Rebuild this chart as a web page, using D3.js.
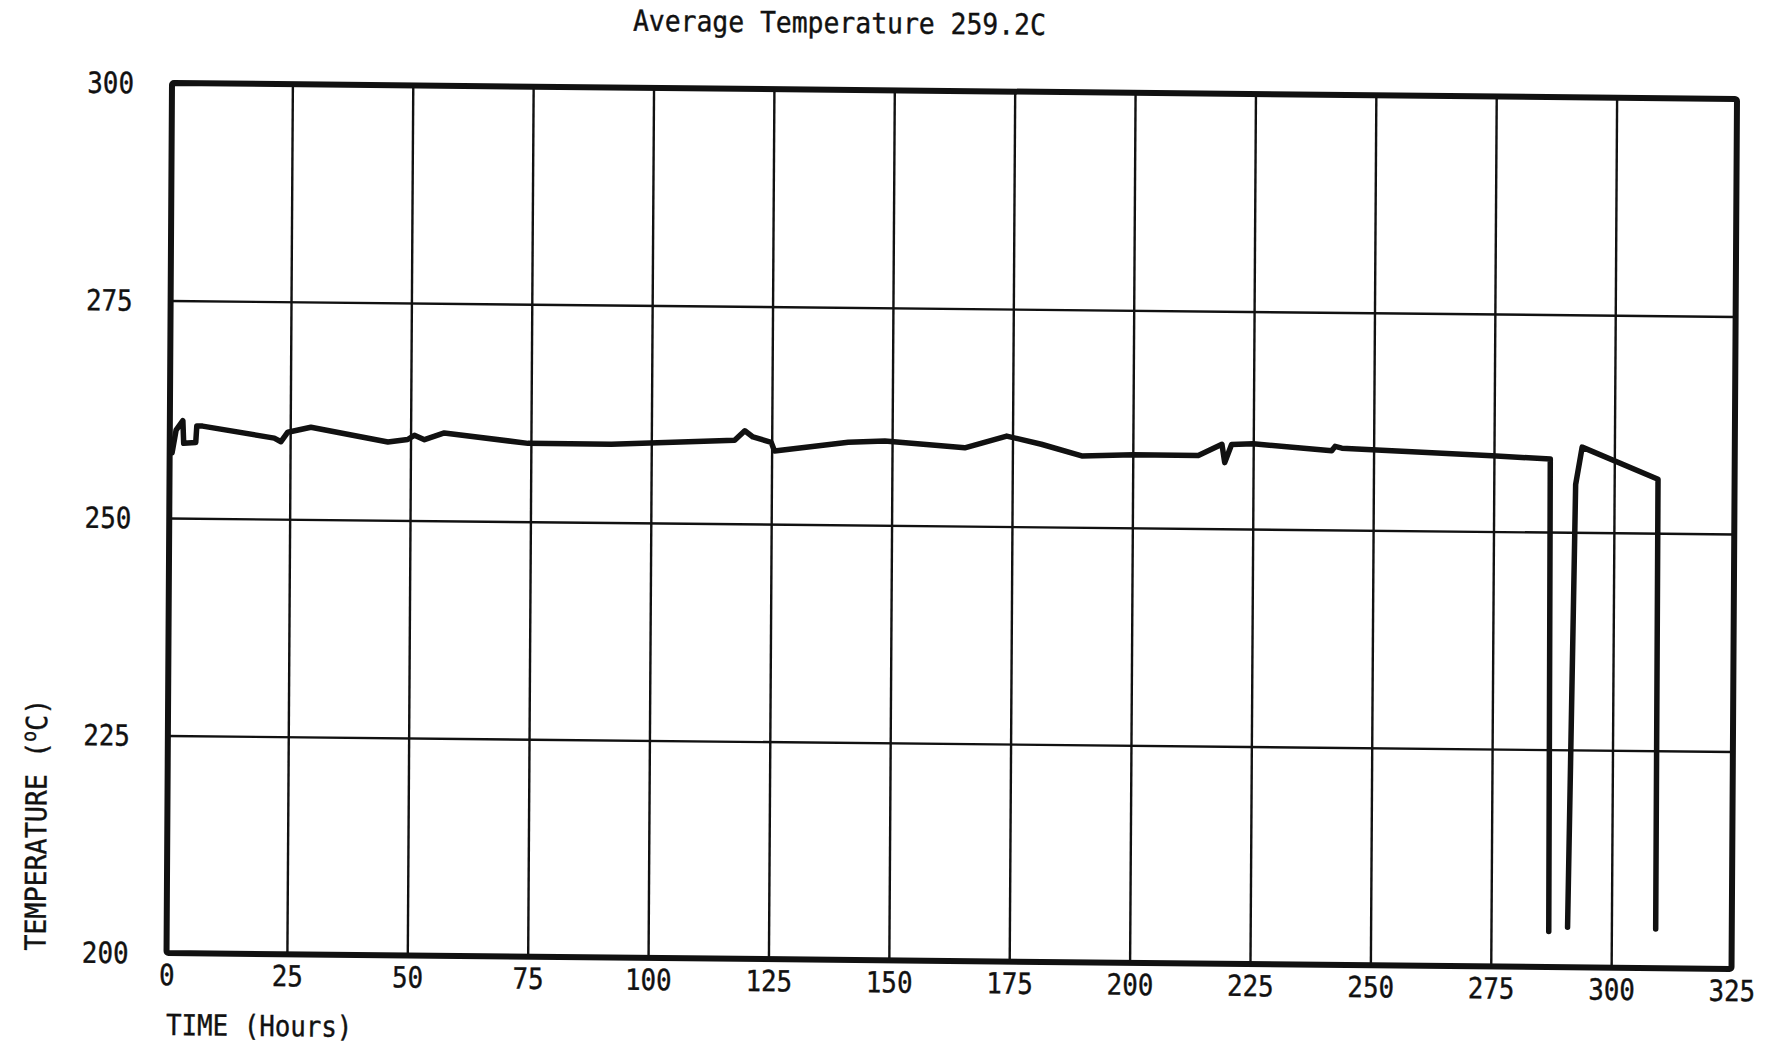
<!DOCTYPE html>
<html>
<head>
<meta charset="utf-8">
<script src="https://cdn.jsdelivr.net/npm/d3@7"></script>
<style>
  html, body { margin: 0; padding: 0; background: #fff; }
  svg { display: block; }
  text { font-family: "DejaVu Sans Mono", monospace; font-size: 29px; fill: #111; stroke: #111; stroke-width: 0.4px; }
</style>
</head>
<body>
<svg id="chart" width="1769" height="1050"></svg>
<script>
// chart recorder trace (null = pen off the paper)
var hours = [0.5, 1.3, 2.7, 2.9, 5.4, 5.6, 6.8, 21.7, 23.1, 24.5, 29.3, 45.3, 49.4, 50.8, 52.9, 57.0,
  74.4, 91.7, 117.3, 119.4, 121.1, 124.9, 125.6, 140.9, 148.5, 165.1, 173.8, 181.0, 189.4, 200.1,
  213.6, 218.5, 219.1, 220.5, 225.0, 241.3, 242.0, 243.4, 274.6, 286.7, 287.0,
  289.0,
  290.9, 292.0, 293.3, 309.1, 309.2];
var tempC = [257.5, 260.1, 261.2, 258.6, 258.7, 260.6, 260.6, 259.3, 258.9, 260.0, 260.6, 259.0, 259.3, 259.8, 259.3, 260.1,
  259.0, 259.0, 259.6, 260.7, 260.0, 259.4, 258.4, 259.5, 259.7, 259.0, 260.4, 259.5, 258.2, 258.4,
  258.4, 259.7, 257.6, 259.7, 259.8, 259.1, 259.6, 259.4, 258.7, 258.4, 204.1,
  null,
  204.6, 255.5, 259.8, 256.2, 204.5];

var xTicks = [0, 25, 50, 75, 100, 125, 150, 175, 200, 225, 250, 275, 300, 325];
var yTicks = [200, 225, 250, 275, 300];
var title = 'Average Temperature 259.2C';
var xTitle = 'TIME (Hours)';

var width = 1565, height = 870;
var squeeze = 'scale(0.89,1)';   // plotter lettering is narrower than DejaVu Mono

var svg = d3.select('#chart');
svg.append('rect').attr('width', 1769).attr('height', 1050).attr('fill', '#fff');

// the scanned sheet sits a little crooked (slight rotation + shear)
var g = svg.append('g').attr('transform', 'matrix(1,0.0102,-0.0063,1,172,83)');

var x = d3.scaleLinear().domain([0, 325]).range([0, width]);
var y = d3.scaleLinear().domain([200, 300]).range([height, 0]);

var xAxis = g.append('g')
  .attr('transform', 'translate(0,' + height + ')')
  .call(d3.axisBottom(x).tickValues(xTicks).tickSize(-height).tickSizeOuter(0));
xAxis.select('.domain').remove();
xAxis.selectAll('line').attr('stroke', '#111').attr('stroke-width', 2.4);
xAxis.selectAll('text')
  .attr('x', null).attr('y', null).attr('dy', null)
  .attr('fill', '#111').attr('font-size', 29)
  .attr('font-family', '"DejaVu Sans Mono", monospace')
  .attr('transform', 'translate(0,32) ' + squeeze);

var yAxis = g.append('g')
  .call(d3.axisLeft(y).tickValues(yTicks).tickSize(-width).tickSizeOuter(0));
yAxis.select('.domain').remove();
yAxis.selectAll('line').attr('stroke', '#111').attr('stroke-width', 2.4);
yAxis.selectAll('text')
  .attr('x', null).attr('y', null).attr('dy', null)
  .attr('fill', '#111').attr('font-size', 29)
  .attr('font-family', '"DejaVu Sans Mono", monospace')
  .attr('transform', 'translate(-38,10) ' + squeeze);

// heavy frame
g.append('rect')
  .attr('width', width).attr('height', height)
  .attr('rx', 2)
  .attr('fill', 'none').attr('stroke', '#111').attr('stroke-width', 6);

var points = hours.map(function (h, i) { return {t: h, v: tempC[i]}; });
var line = d3.line()
  .defined(function (d) { return d.v !== null; })
  .x(function (d) { return x(d.t); })
  .y(function (d) { return y(d.v); });

g.append('path')
  .datum(points)
  .attr('d', line)
  .attr('fill', 'none')
  .attr('stroke', '#111')
  .attr('stroke-width', 5.5)
  .attr('stroke-linejoin', 'round')
  .attr('stroke-linecap', 'round');

g.append('text')
  .attr('text-anchor', 'middle')
  .attr('transform', 'translate(667,-57) scale(0.91,1)')
  .text(title);

g.append('text')
  .attr('transform', 'translate(0,' + (height + 82) + ') ' + squeeze)
  .text(xTitle);

var yLabel = g.append('text')
  .attr('transform', 'translate(-121,' + (height - 1) + ') rotate(-90) scale(0.92,1)');
yLabel.append('tspan').text('TEMPERATURE (');
yLabel.append('tspan').attr('font-size', 20).attr('dy', -11).text('o');
yLabel.append('tspan').attr('dy', 11).text('C)');
</script>
</body>
</html>
